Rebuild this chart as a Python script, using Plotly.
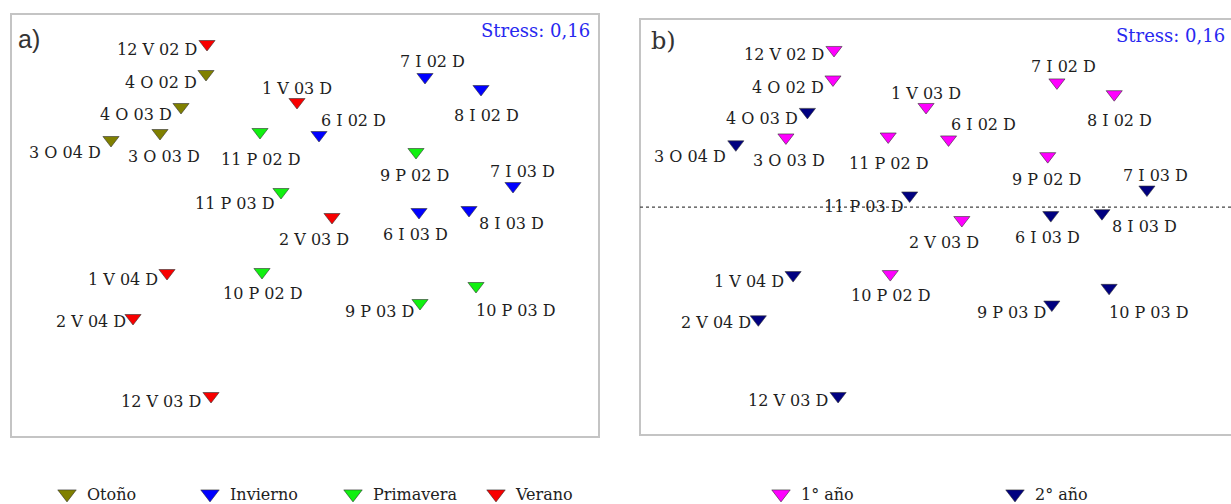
import plotly.graph_objects as go

# ---- data (NMDS configuration) ----
labels = ["12 V 02 D", "4 O 02 D", "4 O 03 D", "3 O 04 D", "3 O 03 D", "1 V 03 D",
          "11 P 02 D", "6 I 02 D", "7 I 02 D", "8 I 02 D", "9 P 02 D", "7 I 03 D",
          "11 P 03 D", "2 V 03 D", "6 I 03 D", "8 I 03 D", "1 V 04 D", "10 P 02 D",
          "9 P 03 D", "10 P 03 D", "2 V 04 D", "12 V 03 D"]
mds1 = [-0.93, -0.94, -1.19, -1.89, -1.40, -0.03, -0.40, 0.19, 1.25, 1.81, 1.16, 2.13,
        -0.19, 0.32, 1.19, 1.69, -1.33, -0.38, 1.20, 1.76, -1.67, -0.89]
mds2 = [1.86, 1.56, 1.23, 0.90, 0.97, 1.28, 0.98, 0.95, 1.53, 1.41, 0.78, 0.44,
        0.38, 0.13, 0.18, 0.20, -0.43, -0.42, -0.73, -0.56, -0.88, -1.66]
season = ["Verano", "Otoño", "Otoño", "Otoño", "Otoño", "Verano",
          "Primavera", "Invierno", "Invierno", "Invierno", "Primavera", "Invierno",
          "Primavera", "Verano", "Invierno", "Invierno", "Verano", "Primavera",
          "Primavera", "Primavera", "Verano", "Verano"]
year = ["1° año", "1° año", "2° año", "2° año", "1° año", "1° año",
        "1° año", "1° año", "1° año", "1° año", "1° año", "2° año",
        "2° año", "1° año", "2° año", "2° año", "2° año", "1° año",
        "2° año", "2° año", "2° año", "2° año"]
season_names = ["Otoño", "Invierno", "Primavera", "Verano"]
year_names = ["1° año", "2° año"]
stress_text = "Stress: 0,16"

# ---- styles ----
season_colors = {"Otoño": "#808000", "Invierno": "#0000ff", "Primavera": "#11f011", "Verano": "#f80000"}
year_colors = {"1° año": "#ff00ff", "2° año": "#000080"}
# label placement relative to its marker: (xanchor, dx px, dy px down)
label_style = [("right", -9, 4), ("right", -8, 7.5), ("right", -8, 6), ("right", -9, 11),
               ("center", 3.5, 22.5), ("center", 0, -14.5), ("center", 1, 26), ("left", 1, -16),
               ("center", 7, -17), ("center", 5.5, 25.5), ("center", -1.5, 22.5), ("center", 9, -15.5),
               ("right", -5, 10), ("center", -18, 21.5), ("center", -3.5, 21.5), ("left", 9, 12),
               ("right", -8, 5.5), ("center", 1, 20.5), ("right", -5, 7), ("left", -1, 23.5),
               ("right", -6, 2.5), ("right", -9, 4)]
SERIF = "DejaVu Serif"
W, H = 1231, 504

fig = go.Figure()
annotations = []

def add_group(names, groups, colors, xa, ya, legend):
    for g in names:
        idx = [i for i, v in enumerate(groups) if v == g]
        fig.add_trace(go.Scatter(
            x=[mds1[i] for i in idx], y=[mds2[i] for i in idx],
            text=[labels[i] for i in idx], mode="markers",
            marker=dict(symbol="triangle-down", size=14, color=colors[g],
                        line=dict(width=0.6, color="#333333")),
            xaxis=xa, yaxis=ya, showlegend=False, hoverinfo="text", cliponaxis=False))
        fig.add_trace(go.Scatter(
            x=[None], y=[None], mode="markers", name=g,
            marker=dict(symbol="triangle-down", size=16, color=colors[g],
                        line=dict(width=0.6, color="#333333")),
            xaxis=xa, yaxis=ya, legend=legend, showlegend=True))
    for i, lab in enumerate(labels):
        anc, dx, dy = label_style[i]
        annotations.append(dict(
            text=lab, x=mds1[i], y=mds2[i], xref=xa, yref=ya,
            xanchor=anc, yanchor="middle", xshift=dx, yshift=-dy - 1,
            showarrow=False, borderpad=0,
            font=dict(family=SERIF, size=16, color="#1e1e1e")))

add_group(season_names, season, season_colors, "x", "y", "legend")
add_group(year_names, year, year_colors, "x2", "y2", "legend2")

ax_common = dict(showgrid=False, zeroline=False, showticklabels=False, showline=False, ticks="")

annotations += [
    dict(text=stress_text, xref="x domain", yref="y domain", x=0.988, y=0.96,
         xanchor="right", yanchor="middle", showarrow=False,
         font=dict(family=SERIF, size=18, color="#2828f0")),
    dict(text=stress_text, xref="x2 domain", yref="y2 domain", x=0.993, y=0.9615,
         xanchor="right", yanchor="middle", showarrow=False,
         font=dict(family=SERIF, size=18, color="#2828f0")),
    dict(text="a)", xref="paper", yref="paper", x=16 / W, y=1 - 39 / H,
         xanchor="left", yanchor="middle", showarrow=False,
         font=dict(family="Liberation Sans", size=25, color="#333")),
    dict(text="b)", xref="paper", yref="paper", x=649 / W, y=1 - 41 / H,
         xanchor="left", yanchor="middle", showarrow=False,
         font=dict(family=SERIF, size=24, color="#333")),
]

fig.update_layout(
    width=W, height=H,
    margin=dict(l=0, r=0, t=0, b=0, autoexpand=False),
    paper_bgcolor="white", plot_bgcolor="white",
    xaxis=dict(domain=[11 / W, 599 / W], range=[-2.89, 2.99], **ax_common),
    yaxis=dict(domain=[1 - 437 / H, 1 - 14 / H], range=[-2.07, 2.16], **ax_common),
    xaxis2=dict(domain=[640 / W, 1.0], range=[-2.827, 2.952], **ax_common),
    yaxis2=dict(domain=[1 - 435 / H, 1 - 19 / H], range=[-2.057, 2.175], **ax_common),
    legend=dict(orientation="h", x=(69 - 22) / W, y=(H - 494) / H, xanchor="left", yanchor="middle",
                font=dict(family=SERIF, size=16, color="#222"), entrywidth=98,
                bgcolor="rgba(0,0,0,0)", tracegroupgap=0),
    legend2=dict(orientation="h", x=(783 - 22) / W, y=(H - 494) / H, xanchor="left", yanchor="middle",
                 font=dict(family=SERIF, size=16, color="#222"), entrywidth=189,
                 bgcolor="rgba(0,0,0,0)", tracegroupgap=0),
    shapes=[
        dict(type="rect", xref="paper", yref="paper", x0=11 / W, x1=599 / W, y0=1 - 437 / H, y1=1 - 14 / H,
             line=dict(color="#c4c4c4", width=2), layer="below"),
        dict(type="rect", xref="paper", yref="paper", x0=640 / W, x1=1.05, y0=1 - 435 / H, y1=1 - 19 / H,
             line=dict(color="#c4c4c4", width=2), layer="below"),
        dict(type="line", xref="x2 domain", yref="y2", x0=0, x1=1, y0=0.262, y1=0.262,
             line=dict(color="#444444", width=1.2, dash="dot")),
    ],
    annotations=annotations,
)

fig.write_html("out.html", config={"displayModeBar": False},
               post_script="document.body.style.margin='0px';document.body.style.overflow='hidden';")
